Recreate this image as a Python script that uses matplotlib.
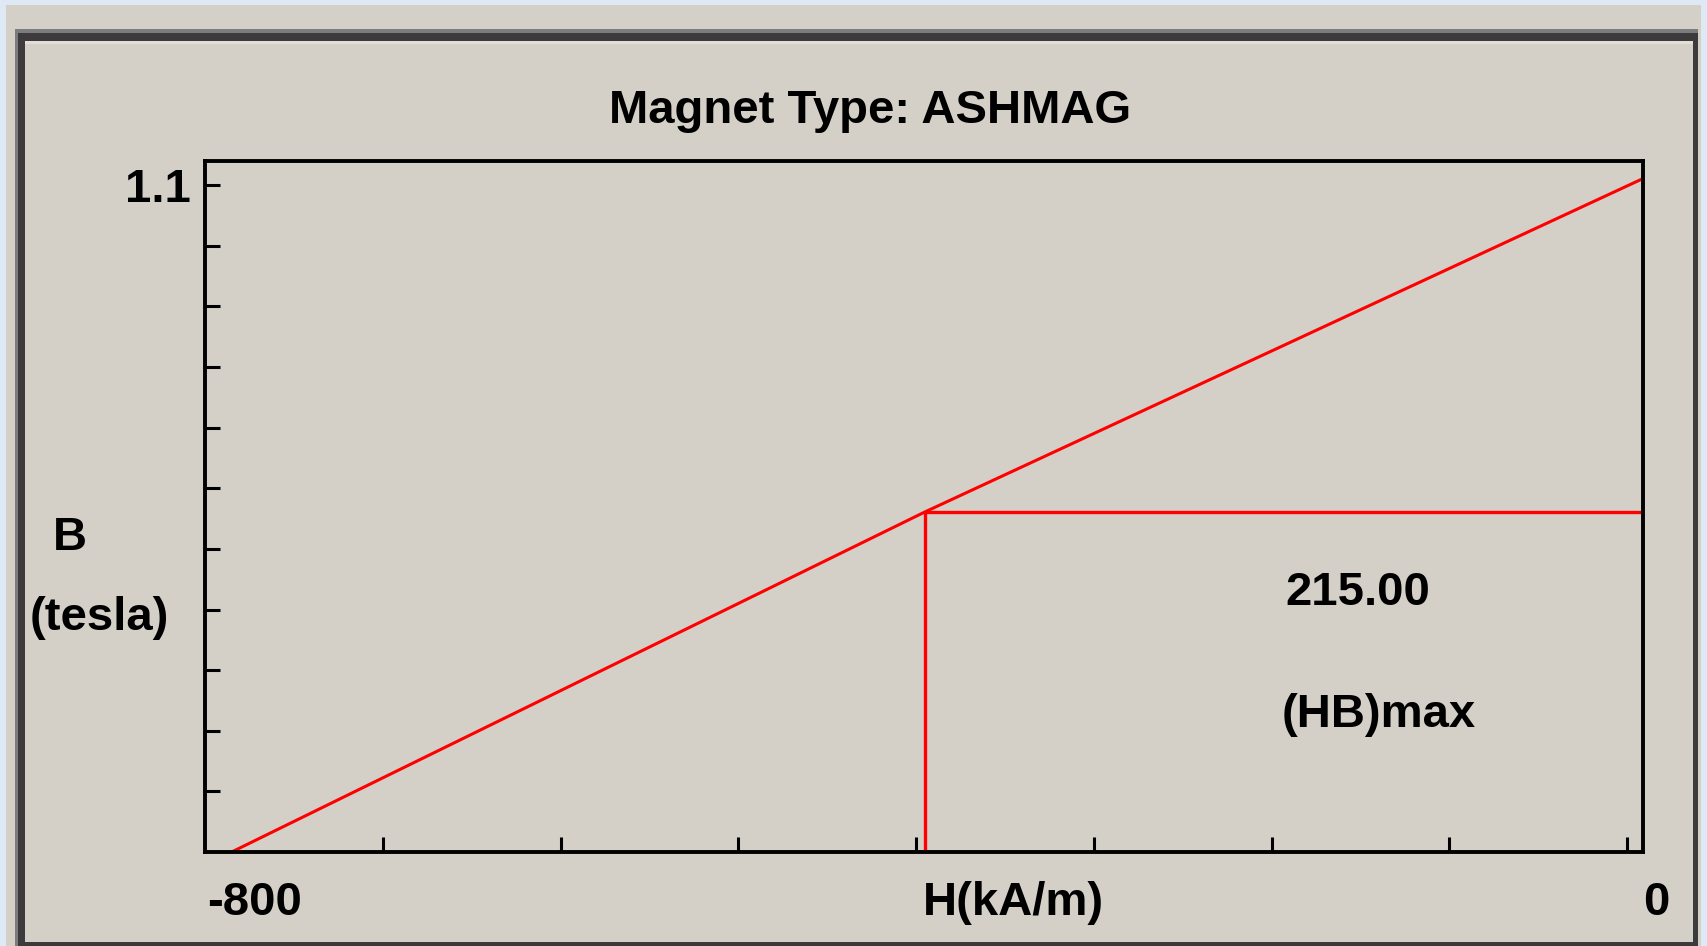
import matplotlib
matplotlib.use("Agg")
import matplotlib.pyplot as plt
from matplotlib.patches import Rectangle

# values
H_curve = [-785, -395, 9]      # kA/m, demagnetisation line up to the frame edge
B_curve = [0.0, 0.561, 1.111]  # tesla
H_knee = -395                  # operating point for (HB)max
B_knee = 0.561
HB_max = 215.00
x_ticks = [-700, -600, -500, -400, -300, -200, -100, 0]
y_ticks = [0.1, 0.2, 0.3, 0.4, 0.5, 0.6, 0.7, 0.8, 0.9, 1.0, 1.1]
x_lim = (-800, 9)
y_lim = (0, 1.14)

W, H = 1707, 946
PANEL = "#d4d0c8"
FONT = dict(family="Liberation Sans", weight="bold", size=34, color="black")


def fx(px):
    return px / W


def fy(py):
    return 1 - py / H


def px_rect(fig, x0, y0, x1, y1, color):
    # background pieces sit behind the axes
    fig.add_artist(Rectangle((fx(x0), fy(y1)), fx(x1) - fx(x0), fy(y0) - fy(y1),
                             transform=fig.transFigure, color=color, lw=0, zorder=-10))


def main():
    fig = plt.figure(figsize=(W / 100, H / 100), dpi=100)
    fig.patch.set_facecolor("#dfe9f5")

    # window panel + sunken frame
    px_rect(fig, 6, 5, 1701, 946, PANEL)
    px_rect(fig, 15, 29, 1698, 33, "#7c7c7c")
    px_rect(fig, 15, 33, 1698, 41, "#3c3a3c")
    px_rect(fig, 15, 29, 18, 946, "#7c7c7c")
    px_rect(fig, 18, 33, 25, 946, "#3c3a3c")
    px_rect(fig, 1693, 33, 1698, 946, "#3c3a3c")
    px_rect(fig, 18, 942, 1698, 946, "#3c3a3c")
    px_rect(fig, 25, 41, 1693, 44, "#e2ded6")

    ax = fig.add_axes([fx(205), fy(852), fx(1643) - fx(205), fy(161) - fy(852)])
    ax.set_facecolor(PANEL)
    ax.set_xlim(*x_lim)
    ax.set_ylim(*y_lim)

    ax.plot(H_curve, B_curve, color="#ff0000", lw=2.2, solid_capstyle="butt")
    ax.vlines(H_knee, 0, B_knee, color="#ff0000", lw=2.4)
    ax.hlines(B_knee, H_knee, x_lim[1], color="#ff0000", lw=2.4)

    for s in ax.spines.values():
        s.set_linewidth(2.8)
        s.set_color("black")
    ax.set_xticks(x_ticks)
    ax.set_yticks(y_ticks)
    ax.tick_params(direction="in", length=11, width=2.2, color="black",
                   labelbottom=False, labelleft=False)

    # texts, placed like the original dialog
    fig.text(fx(870), fy(123), "Magnet Type: ASHMAG", ha="center", va="baseline", **FONT)
    fig.text(fx(191), fy(202), "1.1", ha="right", va="baseline", **FONT)
    fig.text(fx(207), fy(915), "-800", ha="left", va="baseline", **FONT)
    fig.text(fx(923), fy(915), "H(kA/m)", ha="left", va="baseline", **FONT)
    fig.text(fx(1643), fy(915), "0", ha="left", va="baseline", **FONT)
    fig.text(fx(70), fy(550), "B", ha="center", va="baseline", **FONT)
    fig.text(fx(99), fy(630), "(tesla)", ha="center", va="baseline", **FONT)
    fig.text(fx(1285), fy(605), "%.2f" % HB_max, ha="left", va="baseline", **FONT)
    fig.text(fx(1282), fy(727), "(HB)max", ha="left", va="baseline", **FONT)

    fig.savefig("out.png", dpi=100, facecolor=fig.get_facecolor())
    plt.close(fig)


if __name__ == "__main__":
    main()
